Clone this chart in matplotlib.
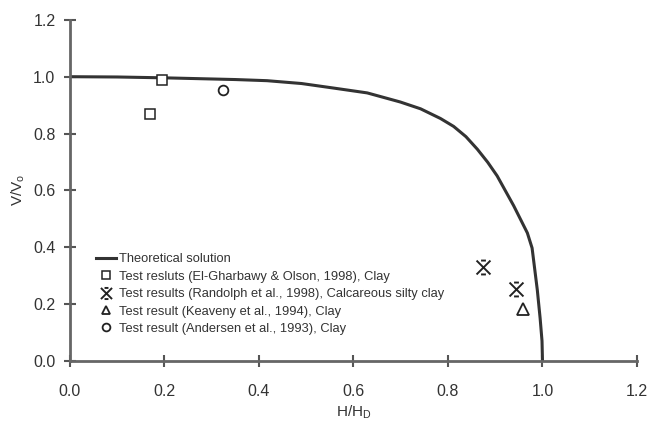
import numpy as np
import matplotlib.pyplot as plt
from matplotlib.path import Path

plt.rcParams['font.family'] = ['Liberation Sans', 'DejaVu Sans']

# theoretical curve
theory_h = [0.0, 0.1, 0.2, 0.275, 0.35, 0.417, 0.49, 0.558, 0.629, 0.699,
            0.742, 0.784, 0.812, 0.838, 0.862, 0.884, 0.904, 0.939, 0.968,
            0.978, 0.989, 0.995, 0.999, 1.0]
theory_v = [1.0, 0.999, 0.996, 0.993, 0.990, 0.986, 0.976, 0.960, 0.943,
            0.911, 0.887, 0.853, 0.825, 0.789, 0.745, 0.699, 0.651, 0.546,
            0.45, 0.397, 0.25, 0.15, 0.07, 0.0]

# test results
elg_h = [0.17, 0.195]
elg_v = [0.87, 0.99]
ran_h = [0.875, 0.945]
ran_v = [0.33, 0.254]
kea_h = [0.958]
kea_v = [0.184]
and_h = [0.324]
and_v = [0.954]

# X with short bars on top and bottom
xbar = Path([(-1, -1), (1, 1), (-1, 1), (1, -1),
             (-0.35, 1), (0.35, 1), (-0.35, -1), (0.35, -1)],
            [Path.MOVETO, Path.LINETO] * 4)

fig = plt.figure(figsize=(6.48, 4.23), dpi=100)
ax = fig.add_axes([0.108, 0.147, 0.875, 0.806])

ax.plot(theory_h, theory_v, color='#333333', lw=2.2, label='Theoretical solution')
ax.plot(elg_h, elg_v, ls='none', marker='s', ms=7, mfc='white', mec='#222222', mew=1.1,
        label='Test resluts (El-Gharbawy & Olson, 1998), Clay')
ax.plot(ran_h, ran_v, ls='none', marker=xbar, ms=10, color='#222222', mew=1.4,
        label='Test results (Randolph et al., 1998), Calcareous silty clay')
ax.plot(kea_h, kea_v, ls='none', marker='^', ms=8, mfc='white', mec='#222222', mew=1.3,
        label='Test result (Keaveny et al., 1994), Clay')
ax.plot(and_h, and_v, ls='none', marker='o', ms=7, mfc='white', mec='#222222', mew=1.3,
        label='Test result (Andersen et al., 1993), Clay')

ax.set_xlim(0, 1.2)
ax.set_ylim(0, 1.2)
ax.set_xticks(np.arange(0, 1.21, 0.2))
ax.set_yticks(np.arange(0, 1.21, 0.2))
ax.set_xticklabels(['%.1f' % t for t in np.arange(0, 1.21, 0.2)])
ax.set_yticklabels(['%.1f' % t for t in np.arange(0, 1.21, 0.2)])

for s in ['top', 'right']:
    ax.spines[s].set_visible(False)
for s in ['left', 'bottom']:
    ax.spines[s].set_color('#666666')
    ax.spines[s].set_linewidth(2)
ax.tick_params(direction='inout', length=9, width=1.5, color='#555555',
               labelsize=11.5, labelcolor='#333333')
ax.tick_params(axis='x', pad=12)
ax.tick_params(axis='y', pad=6)

ax.set_xlabel('H/H$_\\mathregular{D}$', fontsize=11, color='#333333', labelpad=3)
ax.set_ylabel('V/V$_\\mathregular{o}$', fontsize=11, color='#333333', labelpad=4)

leg = ax.legend(loc='upper left', bbox_to_anchor=(0.035, 0.335), frameon=False,
                fontsize=9.3, handlelength=1.5, handletextpad=0.25, labelspacing=0.42,
                borderpad=0, markerscale=0.8)
for t in leg.get_texts():
    t.set_color('#333333')

fig.savefig('out.png', dpi=100)
